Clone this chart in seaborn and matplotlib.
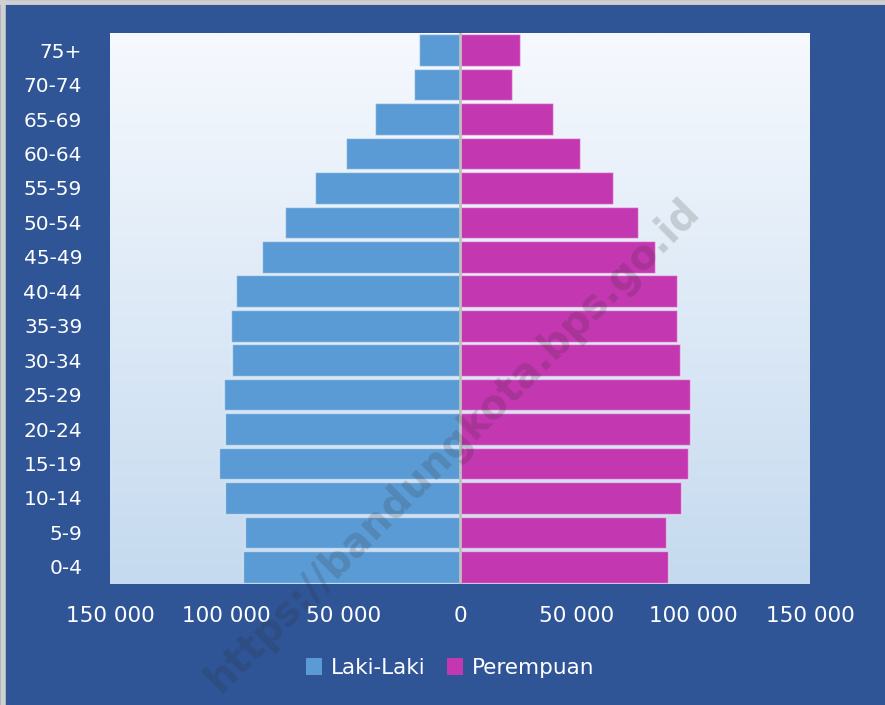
import numpy as np
import pandas as pd
import matplotlib
matplotlib.use("Agg")
import matplotlib.pyplot as plt
import seaborn as sns
from matplotlib.colors import LinearSegmentedColormap
from matplotlib.patches import Patch
from matplotlib.lines import Line2D
from matplotlib.ticker import FuncFormatter

age_groups = ["75+", "70-74", "65-69", "60-64", "55-59", "50-54", "45-49", "40-44",
              "35-39", "30-34", "25-29", "20-24", "15-19", "10-14", "5-9", "0-4"]
laki_laki = [17600, 19700, 36400, 48900, 62100, 75000, 84900, 96000,
             98100, 97700, 101100, 100700, 103300, 100700, 92100, 93000]
perempuan = [25700, 22300, 39900, 51400, 65600, 76300, 83600, 93000,
             93000, 94300, 98600, 98600, 97700, 94700, 88300, 89100]
series_names = ["Laki-Laki", "Perempuan"]
x_ticks = [-150000, -100000, -50000, 0, 50000, 100000, 150000]

BG = "#2F5597"
BLUE = "#5B9BD5"
MAGENTA = "#C337B0"

sns.set_theme(style="white")
plt.rcParams["font.family"] = ["DejaVu Sans"]

df = pd.DataFrame({
    "age": age_groups * 2,
    "value": [-v for v in laki_laki] + perempuan,
    "sex": [series_names[0]] * len(age_groups) + [series_names[1]] * len(age_groups),
})

fig = plt.figure(figsize=(8.85, 7.05), dpi=100, facecolor=BG)
ax = fig.add_axes([110 / 885, 121 / 705, 700 / 885, 551 / 705])

sns.barplot(data=df, y="age", x="value", hue="sex", order=age_groups,
            hue_order=series_names, palette=[BLUE, MAGENTA], dodge=False,
            width=0.92, orient="h", ax=ax, legend=False, zorder=2,
            edgecolor=(1, 1, 1, 0.45), linewidth=1.0, saturation=1)

n = len(age_groups)
cmap = LinearSegmentedColormap.from_list("bg", ["#F6F9FE", "#C5DAEF"])
grad = np.linspace(0, 1, 256).reshape(-1, 1)
ax.imshow(grad, cmap=cmap, aspect="auto", zorder=0,
          extent=[-150000, 150000, n - 0.5, -0.5])
ax.set_xlim(-150000, 150000)
ax.set_ylim(n - 0.5, -0.5)

ax.axvline(0, color="#BFBFBF", lw=2, zorder=3)

for s in ax.spines.values():
    s.set_visible(False)
ax.set_xlabel("")
ax.set_ylabel("")
ax.set_xticks(x_ticks)
ax.xaxis.set_major_formatter(FuncFormatter(lambda v, p: f"{abs(int(v)):,}".replace(",", " ")))
ax.tick_params(axis="x", colors="white", length=0, pad=16, labelsize=15.5)
ax.tick_params(axis="y", colors="white", length=0, pad=20, labelsize=14.5)
for lab in ax.get_yticklabels():
    lab.set_color("white")

handles = [Patch(facecolor=BLUE, edgecolor="none"), Patch(facecolor=MAGENTA, edgecolor="none")]
leg = fig.legend(handles, series_names, loc="center", bbox_to_anchor=(450 / 885, 1 - 668 / 705),
                 ncol=2, frameon=False, handlelength=0.75, handleheight=0.8,
                 handletextpad=0.4, columnspacing=1.0, prop={"size": 15.5})
for t in leg.get_texts():
    t.set_color("white")

# watermark
fig.text(453 / 885, 1 - 445 / 705, "https://bandungkota.bps.go.id", rotation=45,
         ha="center", va="center", fontsize=28.5, fontweight="bold",
         color="#2A2A2A", alpha=0.18, zorder=10)

# thin gray border on top and left
fig.add_artist(Line2D([0, 1], [1 - 2 / 705, 1 - 2 / 705], transform=fig.transFigure,
                      color="#D0D0D0", lw=3.5))
fig.add_artist(Line2D([2.5 / 885, 2.5 / 885], [0, 1], transform=fig.transFigure,
                      color="#D0D0D0", lw=4))

fig.savefig("out.png", dpi=100, facecolor=BG)
